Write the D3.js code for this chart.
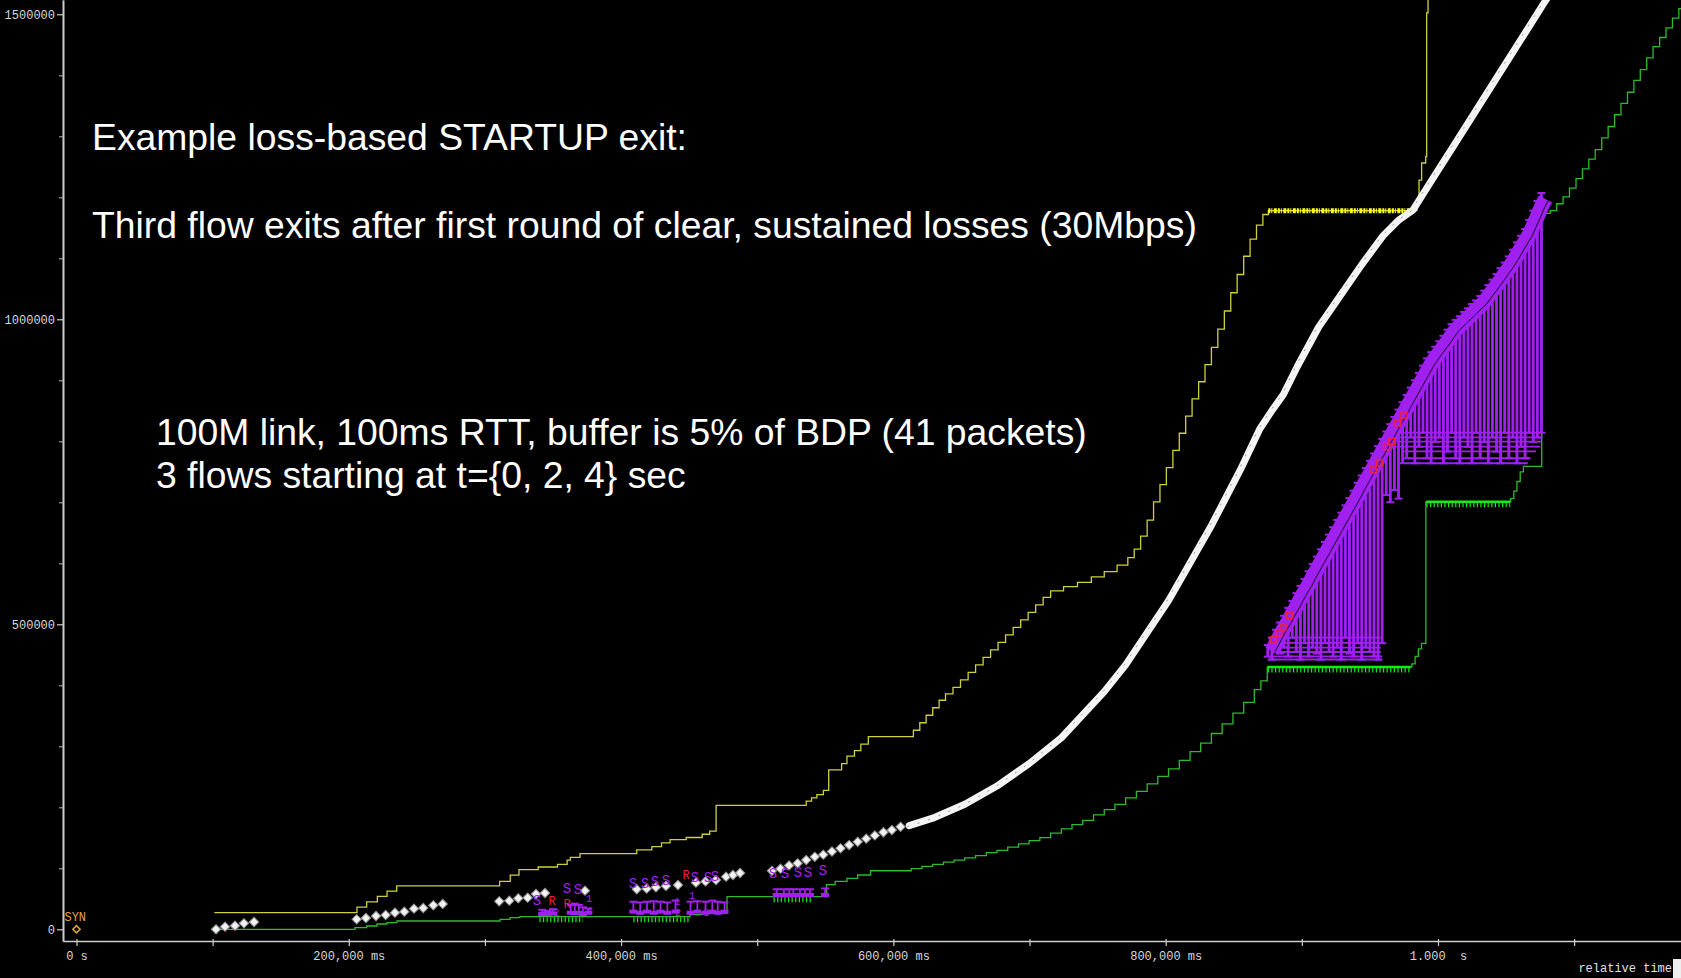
<!DOCTYPE html>
<html>
<head>
<meta charset="utf-8">
<script src="https://cdn.jsdelivr.net/npm/d3@7"></script>
<style>
  html, body { margin: 0; padding: 0; background: #000; overflow: hidden; }
  svg { display: block; }
</style>
</head>
<body>
<script>
// ---------------- data (time in ms, sequence offset in bytes) ----------------

// advertised receive window (yellow), step points [time, bytes]
const rwnd = [
  [101.3, 27400], [206.0, 36200], [213.1, 45000], [221.0, 53800], [228.1, 62500], [235.2, 71300],
  [310.8, 78400], [318.6, 88900], [325.0, 97700], [339.1, 102100], [353.3, 106500], [360.4, 113500],
  [362.7, 117900], [369.8, 124100], [411.5, 130100], [422.6, 135500], [429.7, 141700], [436.0, 147000],
  [447.8, 150500], [459.6, 155800], [465.1, 161000], [469.8, 203200], [536.0, 210200], [539.9, 215500],
  [543.8, 220800], [548.6, 227800], [552.5, 261200], [562.0, 271700], [565.9, 284000], [571.4, 292800],
  [576.1, 303400], [581.6, 315700], [614.7, 326300], [619.4, 338600], [624.1, 350900], [628.9, 363200],
  [633.6, 375500], [638.3, 386000], [643.8, 396600], [649.3, 408900], [654.9, 421200], [660.4, 433500],
  [665.9, 445800], [671.4, 458100], [676.9, 470400], [682.4, 482700], [688.0, 495000], [693.5, 507300],
  [699.0, 519500], [704.5, 531900], [710.0, 544200], [715.5, 554800], [725.0, 561800], [735.2, 568800],
  [745.4, 577600], [754.9, 586400], [764.3, 597000], [772.2, 609300], [776.9, 623300], [781.6, 644400],
  [786.4, 670800], [791.1, 700700], [795.8, 728800], [800.5, 756900], [805.3, 785100], [810.0, 813200],
  [814.7, 841300], [819.4, 869600], [824.2, 897600], [828.9, 925700], [833.6, 953800], [838.3, 983700],
  [843.1, 1013600], [847.8, 1043500], [852.5, 1073400], [857.3, 1103300], [862.0, 1131400], [866.7, 1154300],
  [871.4, 1171800], [875.4, 1178000], [984.5, 1195600], [986.1, 1228100], [988.0, 1256200], [991.0, 1266800],
  [991.7, 1502300], [992.7, 1545000]
];
// stretch where the window sits still and its update ticks pile up [start, end, bytes]
const rwndTickRuns = [[875.4, 981.6, 1178000]];

// cumulative ACK (green), step points [time, bytes]
const acks = [
  [102.6, 0], [204.6, 2600], [213.2, 5400], [220.7, 8700], [228.1, 10800], [235.4, 13600],
  [311.1, 16400], [318.4, 19000], [325.7, 20700], [450.6, 23900], [459.4, 26700], [477.8, 53400],
  [550.9, 73100], [557.2, 78400], [565.9, 83600], [573.8, 89000], [583.2, 96000], [613.1, 99500],
  [621.0, 103000], [628.9, 106500], [636.8, 110000], [644.6, 113500], [652.5, 117000], [660.4, 120600],
  [668.3, 125800], [676.1, 129300], [684.0, 134600], [691.9, 139900], [699.7, 145200], [707.6, 150400],
  [715.5, 157500], [723.4, 164500], [731.2, 171500], [739.1, 178600], [747.0, 187400], [754.9, 196200],
  [762.7, 204900], [770.6, 215500], [778.5, 226000], [786.4, 238300], [794.2, 250700], [802.1, 263000],
  [810.0, 277000], [817.9, 291100], [825.7, 305100], [833.6, 321000], [841.5, 336800], [849.4, 354400],
  [857.3, 372000], [865.1, 393000], [869.9, 407100], [874.6, 430000], [980.8, 435200], [983.2, 447500],
  [985.6, 459800], [987.9, 468600], [991.1, 700700], [1053.3, 706000], [1055.7, 718300], [1058.0, 734100],
  [1060.4, 749900], [1062.8, 758700], [1076.2, 1173600], [1082.4, 1178000], [1087.2, 1189400],
  [1091.9, 1200800], [1096.6, 1214900], [1101.4, 1230700], [1106.1, 1246600], [1110.8, 1262400],
  [1115.5, 1278200], [1120.3, 1297500], [1125.0, 1316000], [1129.7, 1335300], [1134.4, 1353800],
  [1139.2, 1372200], [1143.9, 1391600], [1148.6, 1409200], [1153.3, 1428500], [1158.0, 1447000],
  [1162.8, 1461900], [1167.5, 1477700], [1172.2, 1493600], [1176.9, 1509400], [1181.7, 1525200]
];
// duplicate-ACK runs (dense green ticks under the ACK line) [start, end, bytes]
const dupAckRuns = [
  [340, 372, 20700], [409, 450, 20700], [512, 540, 53400], [875, 980, 430000], [991.5, 1053, 700700]
];

// data segments drawn one by one (white diamonds) [time, bytes]
const segments = [
  [102.5, 0], [109.1, 4260], [116.4, 5900], [123.0, 9840], [130.4, 11970],
  [205.8, 16400], [212.6, 18500], [220.0, 21800], [227.1, 23400], [233.9, 27200], [240.8, 28900],
  [247.9, 33800], [254.7, 34900], [262.1, 39300], [269.0, 41500],
  [310.5, 45900], [317.9, 46900], [324.5, 50800], [331.4, 51800], [337.5, 57900], [344.1, 59500], [373.5, 63300],
  [411.5, 65600], [418.8, 66600], [425.6, 68900], [433.0, 71000], [441.8, 72600], [455.0, 76400],
  [462.0, 78500], [469.7, 80800], [477.1, 86200], [482.2, 89000], [487.4, 92300],
  [510.8, 95900], [517.1, 99400], [523.4, 104700], [529.7, 108200], [536.0, 113500], [542.3, 118800],
  [548.5, 122300], [554.9, 127500], [561.2, 132800], [567.5, 138100], [573.8, 143300], [580.1, 148600],
  [586.4, 153900], [592.7, 159100], [598.9, 162700], [605.3, 168000]
];
// data segments sent back to back, dense enough to merge into one white trace [time, bytes]
const segmentRun = [
  [611.6, 169800], [628.9, 182100], [652.5, 204900], [676.1, 234800], [699.7, 271600], [723.4, 314000],
  [754.9, 389600], [770.6, 433500], [786.4, 486300], [802.1, 538800], [817.9, 600500], [833.6, 662000],
  [854.9, 753400], [869.1, 820200], [878.5, 851900], [886.4, 876500], [896.6, 922200], [912.4, 987300],
  [928.1, 1038200], [943.9, 1089200], [959.6, 1136700], [971.4, 1163000], [981.6, 1178900],
  [995.0, 1226300], [1010.8, 1281700], [1025.8, 1334500], [1045.4, 1403900], [1065.1, 1473300],
  [1079.3, 1523400], [1085.6, 1544500]
];

// SYN
const syn = [[0, 0]];

// SACK blocks in the early rounds [time, left edge, right edge]
const sacks = [
  [342, 25000, 32000], [346, 25000, 30000], [350, 26000, 33000], [363, 27000, 40000], [366, 26000, 42000],
  [369, 27000, 40000], [372, 25000, 36000], [376, 27000, 34000],
  [409, 28900, 45200], [414, 27000, 44000], [419, 28900, 45200], [424, 27000, 46000], [429, 28900, 45200],
  [434, 27000, 44000], [440, 28900, 47000], [451, 27000, 45200], [456, 28900, 46000], [462, 27000, 45200],
  [467, 28900, 47000], [471, 27000, 45200], [476, 28900, 44000],
  [514.3, 56200, 65600], [519.6, 56200, 65600], [523.5, 56200, 65600], [526.5, 56200, 65600],
  [531.4, 56200, 65600], [535.1, 56200, 65600], [538.8, 56200, 65600], [549.8, 56200, 67000]
];

// SACK blocks while the two holes are open [time, left edge, right edge]
const fanSacks = [
  [875, 447000, 466000], [878, 442000, 478000], [881, 469000, 491000], [884, 452000, 503000],
  [887, 462000, 514000], [890, 447000, 527000], [893, 478000, 538000], [896, 455000, 551000],
  [899, 442000, 563000], [902, 469000, 574000], [905, 447000, 587000], [908, 462000, 599000],
  [911, 452000, 611000], [914, 442000, 623000], [917, 469000, 635000], [920, 455000, 647000],
  [923, 447000, 659000], [926, 462000, 671000], [929, 442000, 683000], [932, 478000, 695000],
  [935, 452000, 707000], [938, 447000, 719000], [941, 469000, 732000], [944, 442000, 744000],
  [947, 462000, 756000], [950, 455000, 768000], [953, 447000, 780000], [956, 442000, 792000],
  [959, 469000, 804000],
  [962, 712000, 816000], [965, 700000, 828000], [968, 720000, 840000], [971, 706000, 852000],
  [974, 764000, 864000], [977, 772000, 876000], [980, 806000, 888000], [983, 764000, 900000],
  [986, 791000, 912000], [989, 814000, 924000], [992, 772000, 936000], [995, 764000, 946000],
  [998, 799000, 955000], [1001, 806000, 964000], [1004, 764000, 973000], [1007, 783000, 983000],
  [1010, 814000, 992000], [1013, 772000, 999000], [1016, 764000, 1005000], [1019, 806000, 1012000],
  [1022, 791000, 1018000], [1025, 764000, 1025000], [1028, 814000, 1031000], [1031, 772000, 1038000],
  [1034, 799000, 1047000], [1037, 764000, 1056000], [1040, 806000, 1065000], [1043, 783000, 1074000],
  [1046, 764000, 1084000], [1049, 814000, 1093000], [1052, 772000, 1103000], [1055, 806000, 1114000],
  [1058, 764000, 1126000], [1061, 791000, 1137000], [1064, 772000, 1148000], [1067, 814000, 1163000],
  [1070, 799000, 1178000], [1073, 806000, 1194000], [1076, 814000, 1207000]
];
// left edges that repeat across many ACKs [start, end, bytes]
const sackEdgeRuns = [
  [875, 959, 442300], [876, 959, 447500], [878, 958, 454600], [880, 958, 461600], [884, 959, 469500],
  [890, 958, 478000],
  [972, 1077, 814100], [970, 1077, 806500], [968, 1076, 799500], [966, 1075, 791200],
  [975, 1072, 783300], [978, 1068, 772200], [976, 1066, 764000]
];

// event tags: SACK (S), retransmission (R), duplicate-ACK counts
const sackTags = [
  [338.2, 48200], [360.3, 67000], [368.3, 66000], [408.8, 76000], [417.6, 76000], [424.9, 79300],
  [433.0, 80800], [454.3, 85700], [463.8, 85700], [469.0, 87400], [511.6, 92300], [520.4, 92300],
  [530.0, 93900], [537.3, 93900], [548.3, 97200]
];
const retransTags = [
  [349.3, 46000], [360.3, 41000], [447.7, 89000]
];
// retransmitted segments during recovery (small red marks on the SACK band)
const retransMarks = [
  [878.8, 474300], [883.0, 486000], [886.1, 495600], [891.0, 515000], [952.3, 753000], [957.0, 765000],
  [962.3, 791200], [966.0, 800000], [970.6, 830000], [975.0, 843000]
];
const dupAckTags = [
  [376.4, 51000, "1"], [376.4, 31500, "4"], [352.5, 28500, "2"], [441.1, 46500, "1"],
  [441.8, 27500, "2"], [462.4, 28500, "3"], [452.1, 56000, "1"]
];

// axes
const yMajorTicks = [0, 500000, 1000000, 1500000];
const yMinorTicks = [100000, 200000, 300000, 400000, 600000, 700000, 800000, 900000,
                     1100000, 1200000, 1300000, 1400000];
const xTicks = [0, 100, 200, 300, 400, 500, 600, 700, 800, 900, 1000, 1100];
const xTickLabels = ["0 s", "", "200,000 ms", "", "400,000 ms", "", "600,000 ms", "", "800,000 ms", "", "1.000  s", ""];

const notes = [
  "Example loss-based STARTUP exit:",
  "Third flow exits after first round of clear, sustained losses (30Mbps)"
];
const setup = [
  "100M link, 100ms RTT, buffer is 5% of BDP (41 packets)",
  "3 flows starting at t={0, 2, 4} sec"
];

// ---------------- drawing ----------------
const W = 1681, H = 978;
const plot = { left: 63, right: 1681, top: 0, bottom: 941 };

const x = d3.scaleLinear().domain([-9.9, 1178.5]).range([plot.left, plot.right]);
const y = d3.scaleLinear().domain([-19200, 1523400]).range([plot.bottom, plot.top]);

const COL = {
  axis: "#cdcdcd",
  rwnd: "#cfcf3a",
  rwndTick: "#ffff20",
  ack: "#2dbb2d",
  ackTick: "#10f010",
  purple: "#a020f0",
  red: "#f0203c",
  syn: "#e0a040"
};

const svg = d3.select("body").append("svg")
  .attr("width", W).attr("height", H)
  .style("background", "#000");

svg.append("defs").append("clipPath").attr("id", "plotClip")
  .append("rect")
  .attr("x", plot.left + 1).attr("y", plot.top)
  .attr("width", plot.right - plot.left).attr("height", plot.bottom - plot.top);

// axes
const yMinor = d3.axisLeft(y).tickValues(yMinorTicks).tickSize(4).tickSizeOuter(0).tickFormat("");
const yMajor = d3.axisLeft(y).tickValues(yMajorTicks).tickSize(6).tickSizeOuter(0).tickPadding(2)
  .tickFormat(d3.format("d"));
const xAxis = d3.axisBottom(x).tickValues(xTicks).tickSizeInner(5).tickSizeOuter(0).tickPadding(5)
  .tickFormat((d, i) => xTickLabels[i]);

function styleAxis(g) {
  g.select(".domain").attr("stroke", COL.axis).attr("stroke-width", 1.6);
  g.selectAll(".tick line").attr("stroke", COL.axis).attr("stroke-width", 1.2);
  g.selectAll(".tick text")
    .attr("fill", "#d8d8d8")
    .attr("font-family", "'Liberation Mono', 'DejaVu Sans Mono', monospace")
    .attr("font-size", 12)
    .style("white-space", "pre");
}

svg.append("g").attr("transform", `translate(${plot.left},0)`).call(yMinor).call(styleAxis)
  .selectAll(".tick line").attr("stroke", "#9a9a9a");
svg.append("g").attr("transform", `translate(${plot.left},0)`).call(yMajor).call(styleAxis);
const gx = svg.append("g").attr("transform", `translate(0,${plot.bottom})`).call(xAxis).call(styleAxis);
gx.selectAll(".tick line").attr("y1", -2);

// plotting layer
const g = svg.append("g").attr("clip-path", "url(#plotClip)");

const stepLine = d3.line().x(d => x(d[0])).y(d => y(d[1])).curve(d3.curveStepAfter);
const plainLine = d3.line().x(d => x(d[0])).y(d => y(d[1]));

// receive window
g.append("path").datum(rwnd).attr("d", stepLine)
  .attr("fill", "none").attr("stroke", COL.rwnd).attr("stroke-width", 1.3);
g.selectAll(".rwndTicks").data(rwndTickRuns).join("line")
  .attr("x1", d => x(d[0])).attr("x2", d => x(d[1]))
  .attr("y1", d => y(d[2])).attr("y2", d => y(d[2]))
  .attr("stroke", COL.rwndTick).attr("stroke-width", 5)
  .attr("stroke-dasharray", "2,1,1,1.5,3,1");

// ACK line
g.append("path").datum(acks).attr("d", stepLine)
  .attr("fill", "none").attr("stroke", COL.ack).attr("stroke-width", 1.3);
g.selectAll(".dupRunLine").data(dupAckRuns.filter(d => d[1] - d[0] > 50)).join("line")
  .attr("x1", d => x(d[0])).attr("x2", d => x(d[1]))
  .attr("y1", d => y(d[2])).attr("y2", d => y(d[2]))
  .attr("stroke", COL.ackTick).attr("stroke-width", 2.5);
g.selectAll(".dupRunTicks").data(dupAckRuns).join("line")
  .attr("x1", d => x(d[0])).attr("x2", d => x(d[1]))
  .attr("y1", d => y(d[2]) + 3).attr("y2", d => y(d[2]) + 3)
  .attr("stroke", COL.ackTick).attr("stroke-width", 5)
  .attr("stroke-dasharray", "1.2,2.4");

// SACK blocks: vertical bar between edges with end ticks
function drawSacks(sel, data, width, tickWidth, tickHalf) {
  const grp = sel.append("g").attr("stroke", COL.purple);
  grp.selectAll("line.v").data(data).join("line").attr("class", "v")
    .attr("x1", d => x(d[0])).attr("x2", d => x(d[0]))
    .attr("y1", d => y(d[1])).attr("y2", d => y(d[2]))
    .attr("stroke-width", width);
  grp.selectAll("line.lo").data(data).join("line").attr("class", "lo")
    .attr("x1", d => x(d[0]) - tickHalf).attr("x2", d => x(d[0]) + tickHalf)
    .attr("y1", d => y(d[1])).attr("y2", d => y(d[1]))
    .attr("stroke-width", tickWidth);
  grp.selectAll("line.hi").data(data).join("line").attr("class", "hi")
    .attr("x1", d => x(d[0]) - tickHalf).attr("x2", d => x(d[0]) + tickHalf)
    .attr("y1", d => y(d[2])).attr("y2", d => y(d[2]))
    .attr("stroke-width", 2);
}
drawSacks(g, sacks, 1.8, 4, 4);
drawSacks(g, fanSacks, 2.9, 2, 4);

g.selectAll(".edgeRun").data(sackEdgeRuns).join("line")
  .attr("x1", d => x(d[0])).attr("x2", d => x(d[1]))
  .attr("y1", d => y(d[2])).attr("y2", d => y(d[2]))
  .attr("stroke", COL.purple).attr("stroke-width", 1.8);

// dense band of SACK right edges
g.append("path").datum(fanSacks.map(d => [d[0], d[2]])).attr("d", plainLine)
  .attr("transform", "translate(4,6)")
  .attr("fill", "none").attr("stroke", COL.purple).attr("stroke-width", 15)
  .attr("stroke-linejoin", "round");
g.append("path").datum(fanSacks.map(d => [d[0], d[2]])).attr("d", plainLine)
  .attr("transform", "translate(7,7)")
  .attr("fill", "none").attr("stroke", "#1a0628").attr("stroke-width", 1);

// retransmissions on the band
g.selectAll(".rmark").data(retransMarks).join("rect")
  .attr("x", d => x(d[0]) - 3).attr("y", d => y(d[1]) - 3)
  .attr("width", 6).attr("height", 6)
  .attr("fill", "none").attr("stroke", COL.red).attr("stroke-width", 1.6);

// data segments
g.append("path").datum(segmentRun).attr("d", plainLine)
  .attr("fill", "none").attr("stroke", "#f4f4f4").attr("stroke-width", 7)
  .attr("stroke-linecap", "round").attr("stroke-linejoin", "round");
g.append("path").datum(segmentRun).attr("d", plainLine)
  .attr("fill", "none").attr("stroke", "#9a9a9a").attr("stroke-width", 1)
  .attr("stroke-dasharray", "2,9").attr("transform", "translate(-2,1)");

const diamond = d3.symbol(d3.symbolSquare, 44);
g.selectAll(".seg").data(segments).join("path")
  .attr("d", diamond)
  .attr("transform", d => `translate(${x(d[0])},${y(d[1])}) rotate(45)`)
  .attr("fill", "#f2f2f2").attr("stroke", "#8c8c8c").attr("stroke-width", 1);

// tags
const tagFont = "'Liberation Mono', 'DejaVu Sans Mono', monospace";
g.selectAll(".stag").data(sackTags).join("text")
  .attr("x", d => x(d[0])).attr("y", d => y(d[1]))
  .attr("dy", "0.35em").attr("text-anchor", "middle")
  .attr("font-family", tagFont).attr("font-size", 14)
  .attr("fill", COL.purple).text("S");
g.selectAll(".rtag").data(retransTags).join("text")
  .attr("x", d => x(d[0])).attr("y", d => y(d[1]))
  .attr("dy", "0.35em").attr("text-anchor", "middle")
  .attr("font-family", tagFont).attr("font-size", 12)
  .attr("fill", COL.red).text("R");
g.selectAll(".dtag").data(dupAckTags).join("text")
  .attr("x", d => x(d[0])).attr("y", d => y(d[1]))
  .attr("dy", "0.35em").attr("text-anchor", "middle")
  .attr("font-family", tagFont).attr("font-size", 11)
  .attr("fill", COL.purple).text(d => d[2]);

// SYN marker
g.selectAll(".syn").data(syn).join("path")
  .attr("d", d3.symbol(d3.symbolSquare, 26))
  .attr("transform", d => `translate(${x(d[0])},${y(d[1])}) rotate(45)`)
  .attr("fill", "none").attr("stroke", COL.syn).attr("stroke-width", 1.5);
g.selectAll(".synText").data(syn).join("text")
  .attr("x", d => x(d[0]) - 12).attr("y", d => y(d[1]) - 8)
  .attr("font-family", tagFont).attr("font-size", 12)
  .attr("fill", COL.syn).text("SYN");

// annotations
const textFont = "'Liberation Sans', Arial, sans-serif";
svg.append("g").selectAll("text").data(notes).join("text")
  .attr("x", 92).attr("y", (d, i) => 150 + i * 88)
  .attr("font-family", textFont).attr("font-size", 37.3).attr("fill", "#fff")
  .text(d => d);
svg.append("g").selectAll("text").data(setup).join("text")
  .attr("x", 156).attr("y", (d, i) => 445 + i * 43)
  .attr("font-family", textFont).attr("font-size", 37.3).attr("fill", "#fff")
  .text(d => d);

// axis caption
svg.append("text")
  .attr("x", 1672).attr("y", 972).attr("text-anchor", "end")
  .attr("font-family", tagFont).attr("font-size", 12).attr("fill", "#e0e0e0")
  .text("relative time");
svg.append("rect").attr("x", 1673).attr("y", 959).attr("width", 8).attr("height", 19).attr("fill", "#eeeeee");
</script>
</body>
</html>
